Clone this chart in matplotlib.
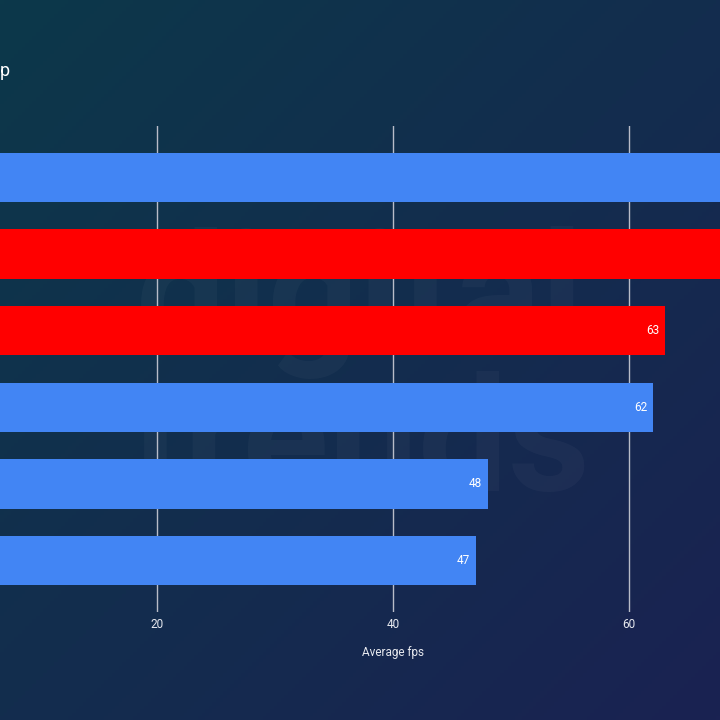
import matplotlib.pyplot as plt
import numpy as np

plt.rcParams['font.family'] = ['Roboto', 'DejaVu Sans']

# Data (top to bottom); the first two bars run past the visible edge
fps = [76, 73, 63, 62, 48, 47]
bar_colors = ['#4285f4', '#ff0000', '#ff0000', '#4285f4', '#4285f4', '#4285f4']
xticks = [20, 40, 60]

fig = plt.figure(figsize=(7.2, 7.2), dpi=100)

# Background gradient (teal top-left -> navy bottom-right)
bg = fig.add_axes([0, 0, 1, 1], zorder=0)
gx, gy = np.meshgrid(np.linspace(0, 1, 200), np.linspace(0, 1, 200))
t = np.clip((gx + gy) / 2, 0, 1)[..., None]
c0 = np.array([0x0c, 0x38, 0x4a]) / 255
c1 = np.array([0x1a, 0x22, 0x52]) / 255
bg.imshow(c0 * (1 - t) + c1 * t, extent=[0, 1, 0, 1], aspect='auto')
bg.set_xlim(0, 1)
bg.set_ylim(0, 1)
bg.set_axis_off()

# Watermark, behind the bars
bg.text(0.5, 0.58, 'digital', ha='center', va='center', fontsize=115,
        fontweight='bold', color='white', alpha=0.03)
bg.text(0.5, 0.38, 'trends', ha='center', va='center', fontsize=115,
        fontweight='bold', color='white', alpha=0.03)

ax = fig.add_axes([0, 0.15, 1, 0.675], zorder=1)
ax.patch.set_alpha(0)
y = np.arange(len(fps))
ax.barh(y, fps, height=0.64, color=bar_colors, zorder=3)

xmin, xmax = 6.69, 67.7
for yi, v in zip(y, fps):
    if v < xmax:
        ax.text(v - 0.45, yi, f'{v}', ha='right', va='center', color='white',
                fontsize=8.5, zorder=4)

ax.set_xlim(xmin, xmax)
ax.set_ylim(5.67, -0.67)
ax.set_xticks(xticks)
ax.set_yticks([])
ax.grid(axis='x', color='#b8bcc8', linewidth=1, zorder=1)
ax.tick_params(axis='x', length=0, colors='#e6e8ee', labelsize=8.5, pad=4)
for s in ax.spines.values():
    s.set_visible(False)
ax.set_xlabel('Average fps', color='#e6e8ee', fontsize=8.5, labelpad=12)
ax.xaxis.set_label_coords((40 - xmin) / (xmax - xmin), -0.07)

fig.text(0.0, 0.895, 'p', ha='left', va='baseline', color='white', fontsize=13)

fig.savefig('out.png', dpi=100)
